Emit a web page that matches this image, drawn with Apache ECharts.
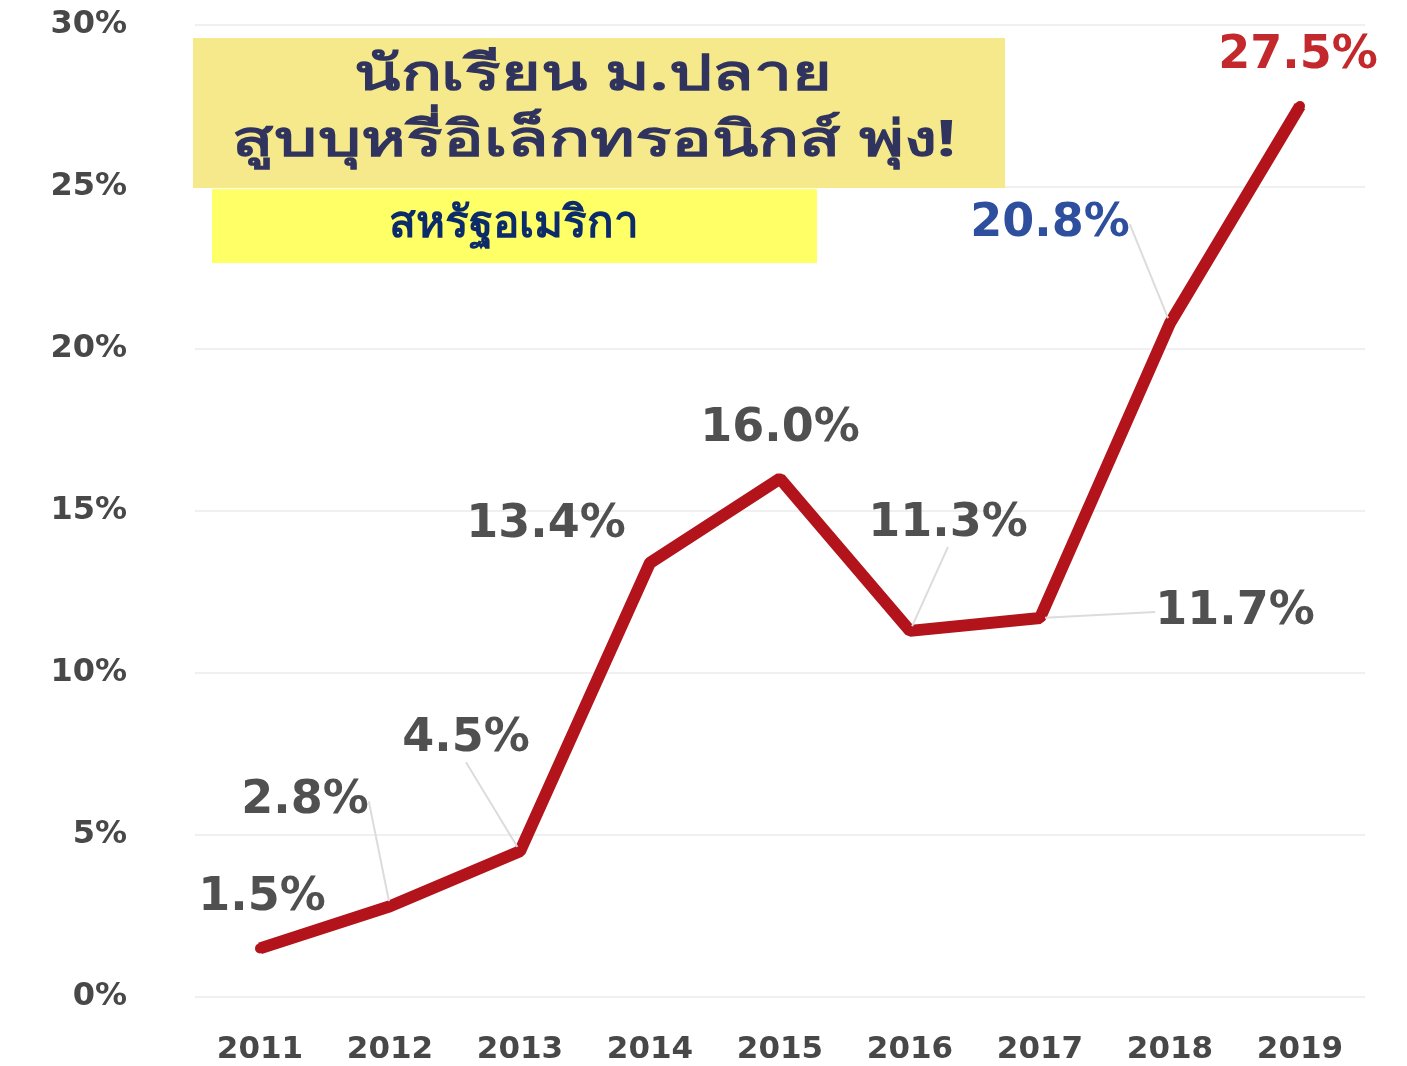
<!DOCTYPE html>
<html><head><meta charset="utf-8">
<script src="https://cdn.jsdelivr.net/npm/echarts@6/dist/echarts.min.js"></script>
<style>html,body{margin:0;padding:0;background:#fff}#c{width:1407px;height:1066px}</style>
</head><body><div id="c"></div>
<script>
const years = ['2011','2012','2013','2014','2015','2016','2017','2018','2019'];
const values = [1.5, 2.8, 4.5, 13.4, 16.0, 11.3, 11.7, 20.8, 27.5];
const valueLabels = ['1.5%','2.8%','4.5%','13.4%','16.0%','11.3%','11.7%','20.8%','27.5%'];
const labelColors = ['#505050','#505050','#505050','#505050','#505050','#505050','#505050','#2d4f9e','#c3282c'];
const yTicks = [0, 5, 10, 15, 20, 25, 30];
const titleLine1 = 'นักเรียน ม.ปลาย';
const titleLine2 = 'สูบบุหรี่อิเล็กทรอนิกส์ พุ่ง!';
const subTitle = 'สหรัฐอเมริกา';

// label placement (offset of label centre from its point) and guide-line visibility
const labelOffsets = [[2,-50],[-85,-105],[-54,-112],[-104,-38],[0,-50],[38,-107],[195,-6],[-120,-99],[-2,-50]];
const showGuide = [false,true,true,false,false,true,true,true,false];

const chart = echarts.init(document.getElementById('c'));
const wideFont = '"DejaVu Sans", sans-serif';
const thaiFont = '"Noto Sans", "DejaVu Sans", sans-serif';
chart.setOption({
  backgroundColor: '#ffffff',
  animation: false,
  grid: { left: 195, right: 42, top: 25, bottom: 69 },
  xAxis: {
    type: 'category',
    data: years,
    boundaryGap: true,
    axisLine: { show: false },
    axisTick: { show: false },
    axisLabel: { margin: 37, color: '#484848', fontSize: 31, fontWeight: 'bold', fontFamily: wideFont }
  },
  yAxis: {
    type: 'value',
    min: yTicks[0], max: yTicks[yTicks.length-1], interval: 5,
    axisLine: { show: false },
    axisTick: { show: false },
    splitLine: { lineStyle: { color: '#f0f0f0', width: 2 } },
    axisLabel: { margin: 68, color: '#484848', fontSize: 32, fontWeight: 'bold', fontFamily: wideFont,
      formatter: v => v + '%' }
  },
  graphic: [
    { type: 'rect', left: 193, top: 38, shape: { width: 812, height: 150 }, style: { fill: '#f5e98c' }, z: 10 },
    { type: 'text', z: 11, x: 593, y: 76, scaleX: 1.36,
      style: { text: titleLine1, align: 'center', verticalAlign: 'middle', fill: '#30335e', font: 'bold 50px ' + thaiFont } },
    { type: 'text', z: 11, x: 594, y: 142, scaleX: 1.36,
      style: { text: titleLine2, align: 'center', verticalAlign: 'middle', fill: '#30335e', font: 'bold 50px ' + thaiFont } },
    { type: 'rect', left: 212, top: 189, shape: { width: 605, height: 74 }, style: { fill: '#ffff66' }, z: 10 },
    { type: 'text', z: 11, x: 514, y: 224,
      style: { text: subTitle, align: 'center', verticalAlign: 'middle', fill: '#0c2b6b', font: 'bold 44px ' + thaiFont } }
  ],
  series: [{
    type: 'line',
    data: values.map((v, i) => ({
      value: v,
      label: { formatter: valueLabels[i], color: labelColors[i] },
      labelLine: { show: showGuide[i] }
    })),
    lineStyle: { color: '#b3131b', width: 12 },
    itemStyle: { color: '#b3131b' },
    symbol: 'circle',
    symbolSize: 10,
    showSymbol: true,
    label: {
      show: true,
      position: 'inside',
      fontSize: 46,
      fontWeight: 'bold',
      fontFamily: wideFont
    },
    labelLine: { show: true, lineStyle: { color: '#dcdcdc', width: 2 } },
    labelLayout: function (p) {
      const o = labelOffsets[p.dataIndex];
      return { dx: o[0], dy: o[1] };
    },
    z: 5
  }]
});
</script>
</body></html>
